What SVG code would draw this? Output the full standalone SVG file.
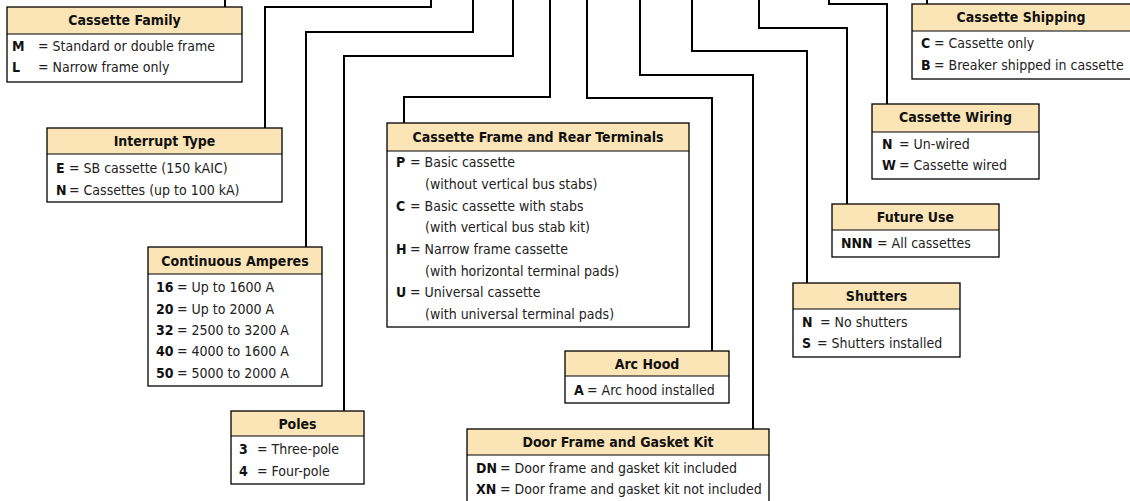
<svg xmlns="http://www.w3.org/2000/svg" width="1130" height="501" viewBox="0 0 1130 501">
<style>
.bg{fill:#ffffff}
.hd{fill:#fbe5b6;stroke:none}
.bx{fill:none;stroke:#000;stroke-width:1.3}
.sep{stroke:#000;stroke-width:1.2}
.ht{font-family:"Liberation Sans Narrow","DejaVu Sans Condensed","Liberation Sans",sans-serif;font-weight:bold;font-size:14px;fill:#111;text-anchor:middle}
.t{font-family:"Liberation Sans Narrow","DejaVu Sans Condensed","Liberation Sans",sans-serif;font-size:14px;fill:#222}
.b{font-weight:bold;fill:#111}
.c{fill:none;stroke:#000;stroke-width:2}
</style>
<rect class="bg" x="0" y="0" width="1130" height="501"/>
<g id="connectors">
<polyline class="c" points="225,0 225,7"/>
<polyline class="c" points="431,0 431,7 265,7 265,128"/>
<polyline class="c" points="473,0 473,32 306,32 306,247"/>
<polyline class="c" points="513,0 513,56 344,56 344,411"/>
<polyline class="c" points="550,0 550,97 404,97 404,123"/>
<polyline class="c" points="587,0 587,98 712,98 712,351"/>
<polyline class="c" points="640,0 640,75 753,75 753,429"/>
<polyline class="c" points="692,0 692,51 807,51 807,283"/>
<polyline class="c" points="759,0 759,28 847,28 847,204"/>
<polyline class="c" points="829,0 829,4 887,4 887,104"/>
<polyline class="c" points="927,0 927,4"/>
</g>
<g id="cassette-family">
<rect class="hd" x="7" y="7" width="235" height="27"/>
<line class="sep" x1="7" y1="34" x2="242" y2="34"/>
<rect class="bx" x="7" y="7" width="235" height="75"/>
<text class="ht" x="124.5" y="25">Cassette Family</text>
<text class="t" y="51"><tspan class="b" x="12">M</tspan><tspan x="38">= Standard or double frame</tspan></text>
<text class="t" y="72"><tspan class="b" x="12">L</tspan><tspan x="38">= Narrow frame only</tspan></text>
</g>
<g id="interrupt-type">
<rect class="hd" x="47" y="128" width="235" height="26"/>
<line class="sep" x1="47" y1="154" x2="282" y2="154"/>
<rect class="bx" x="47" y="128" width="235" height="74"/>
<text class="ht" x="164.5" y="146">Interrupt Type</text>
<text class="t" y="173"><tspan class="b" x="56">E</tspan><tspan x="69">= SB cassette (150 kAIC)</tspan></text>
<text class="t" y="195"><tspan class="b" x="56">N</tspan><tspan x="69">= Cassettes (up to 100 kA)</tspan></text>
</g>
<g id="continuous-amperes">
<rect class="hd" x="148" y="247" width="174" height="27"/>
<line class="sep" x1="148" y1="274" x2="322" y2="274"/>
<rect class="bx" x="148" y="247" width="174" height="139"/>
<text class="ht" x="235" y="266">Continuous Amperes</text>
<text class="t" y="292"><tspan class="b" x="156">16</tspan><tspan x="177">= Up to 1600 A</tspan></text>
<text class="t" y="314"><tspan class="b" x="156">20</tspan><tspan x="177">= Up to 2000 A</tspan></text>
<text class="t" y="335"><tspan class="b" x="156">32</tspan><tspan x="177">= 2500 to 3200 A</tspan></text>
<text class="t" y="356"><tspan class="b" x="156">40</tspan><tspan x="177">= 4000 to 1600 A</tspan></text>
<text class="t" y="378"><tspan class="b" x="156">50</tspan><tspan x="177">= 5000 to 2000 A</tspan></text>
</g>
<g id="poles">
<rect class="hd" x="231" y="411" width="133" height="25"/>
<line class="sep" x1="231" y1="436" x2="364" y2="436"/>
<rect class="bx" x="231" y="411" width="133" height="73"/>
<text class="ht" x="297.5" y="429">Poles</text>
<text class="t" y="454"><tspan class="b" x="239">3</tspan><tspan x="257">= Three-pole</tspan></text>
<text class="t" y="476"><tspan class="b" x="239">4</tspan><tspan x="257">= Four-pole</tspan></text>
</g>
<g id="cassette-frame">
<rect class="hd" x="387" y="123" width="302" height="28"/>
<line class="sep" x1="387" y1="151" x2="689" y2="151"/>
<rect class="bx" x="387" y="123" width="302" height="204"/>
<text class="ht" x="538" y="142">Cassette Frame and Rear Terminals</text>
<text class="t" y="167"><tspan class="b" x="396">P</tspan><tspan x="410">= Basic cassette</tspan></text>
<text class="t" x="425" y="189">(without vertical bus stabs)</text>
<text class="t" y="211"><tspan class="b" x="396">C</tspan><tspan x="410">= Basic cassette with stabs</tspan></text>
<text class="t" x="425" y="232">(with vertical bus stab kit)</text>
<text class="t" y="254"><tspan class="b" x="396">H</tspan><tspan x="410">= Narrow frame cassette</tspan></text>
<text class="t" x="425" y="276">(with horizontal terminal pads)</text>
<text class="t" y="297"><tspan class="b" x="396">U</tspan><tspan x="410">= Universal cassette</tspan></text>
<text class="t" x="425" y="319">(with universal terminal pads)</text>
</g>
<g id="arc-hood">
<rect class="hd" x="565" y="351" width="164" height="25"/>
<line class="sep" x1="565" y1="376" x2="729" y2="376"/>
<rect class="bx" x="565" y="351" width="164" height="52"/>
<text class="ht" x="647" y="369">Arc Hood</text>
<text class="t" y="395"><tspan class="b" x="574">A</tspan><tspan x="587">= Arc hood installed</tspan></text>
</g>
<g id="door-frame">
<rect class="hd" x="467" y="429" width="302" height="26"/>
<line class="sep" x1="467" y1="455" x2="769" y2="455"/>
<rect class="bx" x="467" y="429" width="302" height="75"/>
<text class="ht" x="618" y="447">Door Frame and Gasket Kit</text>
<text class="t" y="473"><tspan class="b" x="476">DN</tspan><tspan x="500">= Door frame and gasket kit included</tspan></text>
<text class="t" y="494"><tspan class="b" x="476">XN</tspan><tspan x="500">= Door frame and gasket kit not included</tspan></text>
</g>
<g id="cassette-shipping">
<rect class="hd" x="912" y="4" width="220" height="27"/>
<line class="sep" x1="912" y1="31" x2="1132" y2="31"/>
<rect class="bx" x="912" y="4" width="220" height="75"/>
<text class="ht" x="1021" y="22">Cassette Shipping</text>
<text class="t" y="48"><tspan class="b" x="921">C</tspan><tspan x="934">= Cassette only</tspan></text>
<text class="t" y="70"><tspan class="b" x="921">B</tspan><tspan x="934">= Breaker shipped in cassette</tspan></text>
</g>
<g id="cassette-wiring">
<rect class="hd" x="872" y="104" width="167" height="28"/>
<line class="sep" x1="872" y1="132" x2="1039" y2="132"/>
<rect class="bx" x="872" y="104" width="167" height="75"/>
<text class="ht" x="955.5" y="122">Cassette Wiring</text>
<text class="t" y="149"><tspan class="b" x="882">N</tspan><tspan x="899">= Un-wired</tspan></text>
<text class="t" y="170"><tspan class="b" x="882">W</tspan><tspan x="899">= Cassette wired</tspan></text>
</g>
<g id="future-use">
<rect class="hd" x="832" y="204" width="167" height="26"/>
<line class="sep" x1="832" y1="230" x2="999" y2="230"/>
<rect class="bx" x="832" y="204" width="167" height="53"/>
<text class="ht" x="915.5" y="222">Future Use</text>
<text class="t" y="248"><tspan class="b" x="841">NNN</tspan><tspan x="877">= All cassettes</tspan></text>
</g>
<g id="shutters">
<rect class="hd" x="793" y="283" width="167" height="26"/>
<line class="sep" x1="793" y1="309" x2="960" y2="309"/>
<rect class="bx" x="793" y="283" width="167" height="74"/>
<text class="ht" x="876.5" y="301">Shutters</text>
<text class="t" y="327"><tspan class="b" x="802">N</tspan><tspan x="820">= No shutters</tspan></text>
<text class="t" y="348"><tspan class="b" x="802">S</tspan><tspan x="817">= Shutters installed</tspan></text>
</g>
</svg>
